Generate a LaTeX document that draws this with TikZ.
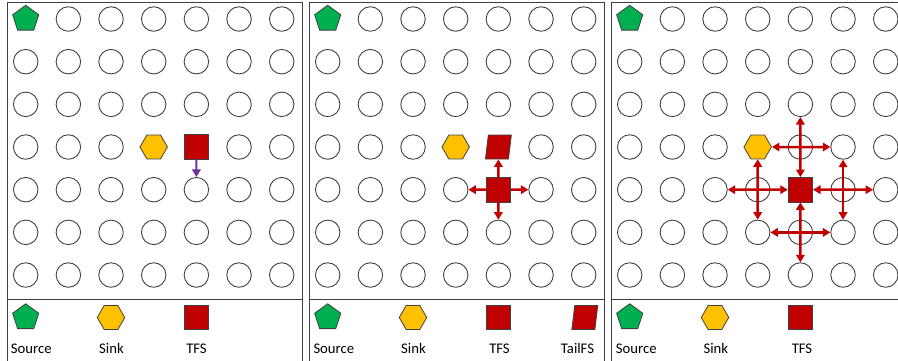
\documentclass[tikz,border=0pt]{standalone}
\usepackage{fontspec}
\setmainfont{Carlito}
\usepackage{tikz}
\usetikzlibrary{arrows.meta, shapes.geometric}

\definecolor{srcgreen}{HTML}{00B050}
\definecolor{sinkorange}{HTML}{FFC000}
\definecolor{tfsred}{HTML}{C00000}
\definecolor{probepurple}{HTML}{7030A0}
\definecolor{edgegray}{HTML}{404040}

\begin{document}
\begin{tikzpicture}[
  x=1pt, y=-1pt,
  panel/.style={draw=edgegray, line width=1pt},
  cell/.style={circle, draw=edgegray, line width=0.9pt, minimum size=24.5pt, inner sep=0pt},
  source/.style={regular polygon, regular polygon sides=5, draw=edgegray, line width=0.8pt, fill=srcgreen, minimum size=27.5pt, inner sep=0pt},
  sink/.style={regular polygon, regular polygon sides=6, draw=edgegray, line width=0.8pt, fill=sinkorange, minimum size=27.5pt, inner sep=0pt},
  tfs/.style={rectangle, draw=edgegray, line width=0.8pt, fill=tfsred, minimum size=24.5pt, inner sep=0pt},
  tail/.style={rectangle, xslant=0.12, draw=edgegray, line width=0.8pt, fill=tfsred, minimum width=23pt, minimum height=24pt, inner sep=0pt},
  legend/.style={font=\fontsize{14.7}{17}\selectfont, inner sep=0pt, anchor=base},
  probe/.style={-{Triangle[length=7.5pt, width=8.5pt]}, line width=2.2pt, probepurple},
  push/.style={-{Triangle[length=7.5pt, width=8.5pt]}, line width=2.5pt, tfsred},
  trade/.style={{Triangle[length=7.5pt, width=8.5pt]}-{Triangle[length=7.5pt, width=8.5pt]}, line width=2.5pt, tfsred},
]
\useasboundingbox (0,0) rectangle (898,360);
\clip (0,0) rectangle (898,360);

% Panel 1: probing one step down
\begin{scope}[xshift=7pt]
  \draw[panel] (0,2) rectangle (295,362);
  \draw[panel] (0,299) -- (295,299);
  \foreach \c in {0,...,6}
    \foreach \r in {0,...,6} {
      \pgfmathtruncatemacro{\busy}{(\c==0 && \r==0) || (\c==3 && \r==3) || (\c==4 && \r==3)}
      \ifnum\busy=0
        \node[cell] (a\c\r) at ({18.7+42.67*\c}, {19+42.67*\r}) {};
      \fi
    }
  \node[source] (asrc) at (18.7, 19) {};
  \node[sink] (asink) at (146.7, 147) {};
  \node[tfs] (atfs) at (189.4, 147) {};
  \draw[probe] (atfs) -- (a44);

  % Legend
  \node[source] (akeysrc) at (18.7, 317.5) {};
  \node[sink] (akeysink) at (104, 317.5) {};
  \node[tfs] (akeytfs) at (189.4, 317.5) {};
  \node[legend, anchor=base west] (akeysrct) at (3.7, 353) {Source};
  \node[legend] (akeysinkt) at (104.5, 353) {Sink};
  \node[legend] (akeytfst) at (189.5, 353) {TFS};
\end{scope}

% Panel 2: moving with a tail
\begin{scope}[xshift=309pt]
  \draw[panel] (0,2) rectangle (295,362);
  \draw[panel] (0,299) -- (295,299);
  \foreach \c in {0,...,6}
    \foreach \r in {0,...,6} {
      \pgfmathtruncatemacro{\busy}{(\c==0 && \r==0) || (\c==3 && \r==3) || (\c==4 && \r==3) || (\c==4 && \r==4)}
      \ifnum\busy=0
        \node[cell] (b\c\r) at ({18.7+42.67*\c}, {19+42.67*\r}) {};
      \fi
    }
  \node[source] (bsrc) at (18.7, 19) {};
  \node[sink] (bsink) at (146.7, 147) {};
  \node[tail] (btail) at (189.4, 147) {};
  \node[tfs] (btfs) at (189.4, 189.7) {};
  \draw[push] (btfs) -- (btail);
  \draw[push] (btfs) -- (b34);
  \draw[push] (btfs) -- (b54);
  \draw[push] (btfs) -- (b45);

  % Legend
  \node[source] (bkeysrc) at (18.7, 317.5) {};
  \node[sink] (bkeysink) at (104, 317.5) {};
  \node[tfs] (bkeytfs) at (189.4, 317.5) {};
  \node[tail] (bkeytail) at (275.8, 317.5) {};
  \node[legend, anchor=base west] (bkeysrct) at (4.3, 353) {Source};
  \node[legend] (bkeysinkt) at (104.5, 353) {Sink};
  \node[legend] (bkeytfst) at (190.5, 353) {TFS};
  \node[legend] (bkeytailt) at (268.5, 353) {TailFS};
\end{scope}

% Panel 3: swaps around the TFS
\begin{scope}[xshift=611pt]
  \draw[panel] (0,2) rectangle (295,362);
  \draw[panel] (0,299) -- (295,299);
  \foreach \c in {0,...,6}
    \foreach \r in {0,...,6} {
      \pgfmathtruncatemacro{\busy}{(\c==0 && \r==0) || (\c==3 && \r==3) || (\c==4 && \r==4)}
      \ifnum\busy=0
        \node[cell] (c\c\r) at ({18.7+42.67*\c}, {19+42.67*\r}) {};
      \fi
    }
  \node[source] (csrc) at (18.7, 19) {};
  \node[sink] (csink) at (146.7, 147) {};
  \node[tfs] (ctfs) at (189.4, 189.7) {};
  \draw[trade] (c42) -- (ctfs);
  \draw[trade] (csink) -- (c53);
  \draw[trade] (csink) -- (c35);
  \draw[trade] (c24) -- (ctfs);
  \draw[trade] (ctfs) -- (c64);
  \draw[trade] (c53) -- (c55);
  \draw[trade] (c35) -- (c55);
  \draw[trade] (ctfs) -- (c46);

  % Legend
  \node[source] (ckeysrc) at (18.7, 317.5) {};
  \node[sink] (ckeysink) at (104, 317.5) {};
  \node[tfs] (ckeytfs) at (189.4, 317.5) {};
  \node[legend, anchor=base west] (ckeysrct) at (4.7, 353) {Source};
  \node[legend] (ckeysinkt) at (104.8, 353) {Sink};
  \node[legend] (ckeytfst) at (191, 353) {TFS};
\end{scope}

\end{tikzpicture}
\end{document}
